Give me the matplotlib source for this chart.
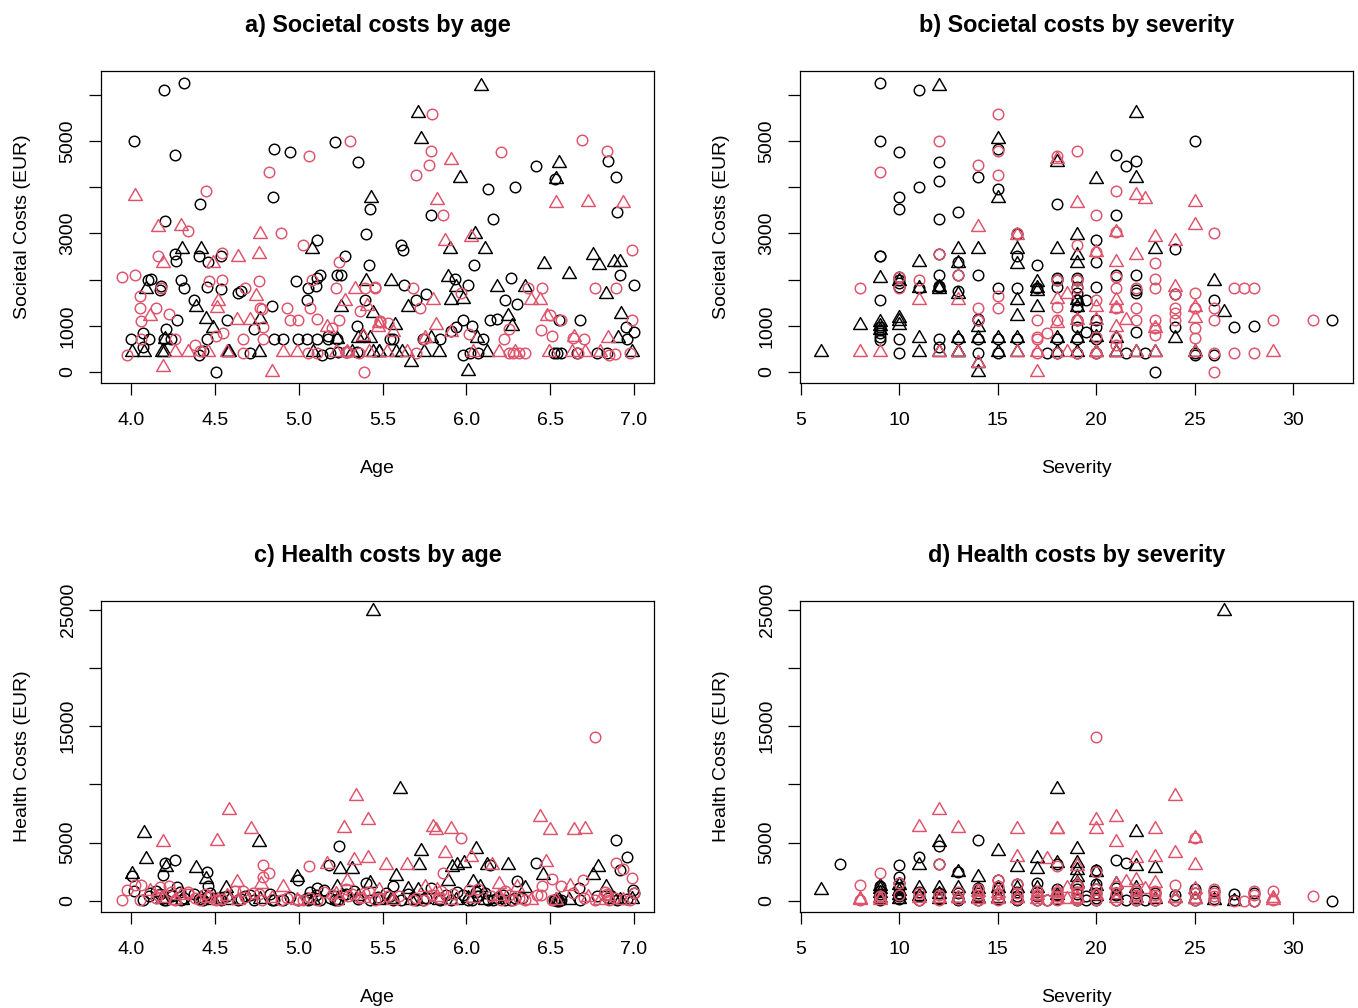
import matplotlib
matplotlib.use('Agg')
import matplotlib.pyplot as plt
from matplotlib.path import Path

PINK = '#DF536B'
plt.rcParams['font.family'] = ['Liberation Sans', 'DejaVu Sans']

# a) societal costs by age: bc=black circle, bt=black triangle, pc=pink circle, pt=pink triangle
a_bc_x = [4.195, 4.318, 4.014, 4.264, 4.853, 4.950, 5.217, 5.352, 4.845, 4.408, 4.201, 5.111, 5.402, 5.424, 4.260, 4.266, 4.402, 4.459, 4.537, 5.278, 5.419, 4.101, 4.119, 4.300, 4.314, 4.179, 4.175, 4.455, 4.539, 4.638, 4.654, 4.982, 5.127, 5.107, 5.227, 5.250, 5.058, 5.101, 4.374, 5.048, 5.398, 4.843, 4.276, 4.573, 4.736, 4.207, 5.346, 4.072, 4.002, 4.105, 4.193, 4.239, 4.451, 4.853, 4.909, 4.998, 5.048, 5.109, 5.177, 5.177, 5.231, 4.068, 4.402, 4.431, 4.710, 4.509, 5.137, 5.187, 5.237, 5.282, 5.346,
          6.413, 6.847, 6.896, 6.129, 6.288, 5.789, 6.159, 6.900, 5.608, 5.624, 6.045, 6.918, 7.000, 6.264, 5.934, 6.012, 5.626, 5.761, 5.698, 6.230, 6.300, 5.938, 5.906, 5.978, 6.032, 6.143, 6.185, 6.552, 6.678, 6.952, 7.002, 6.956, 5.841, 5.743, 6.101, 5.544, 5.564, 5.978, 6.022, 6.071, 6.525, 6.542, 6.564, 6.658, 6.777, 6.841, 6.531]
a_bc_y = [6097, 6255, 4993, 4704, 4820, 4762, 4978, 4545, 3795, 3636, 3268, 2850, 2994, 3521, 2561, 2403, 2504, 2374, 2511, 2504, 2316, 1991, 2013, 1991, 1811, 1861, 1775, 1833, 1804, 1717, 1753, 1977, 2100, 2027, 2092, 2100, 1811, 1861, 1551, 1551, 1551, 1429, 1126, 1126, 938, 938, 988, 837, 707, 707, 707, 707, 707, 707, 707, 707, 707, 707, 779, 707, 707, 534, 368, 455, 418, 0, 368, 411, 426, 426, 426,
          4452, 4567, 4228, 3961, 4012, 3398, 3319, 3456, 2749, 2641, 2316, 2100, 1883, 2027, 2013, 1883, 1883, 1681, 1558, 1551, 1479, 981, 887, 1118, 1003, 1126, 1140, 1118, 1118, 981, 873, 707, 707, 707, 707, 707, 707, 361, 418, 418, 418, 418, 418, 418, 418, 411, 4170]
a_bt_x = [4.004, 4.074, 4.183, 4.195, 4.575, 4.581, 4.763, 5.087, 4.089, 4.302, 4.419, 5.079, 4.384, 4.447, 4.489, 4.771, 5.250, 5.400, 5.441, 5.431, 4.199, 5.231, 5.356, 5.386, 5.425, 5.445, 5.481, 5.316,
          6.085, 5.709, 5.731, 6.554, 6.535, 5.962, 6.051, 5.902, 6.111, 6.757, 6.789, 6.463, 6.614, 6.882, 6.916, 6.831, 5.550, 5.888, 5.936, 5.908, 5.982, 5.654, 6.183, 6.350, 6.250, 6.270, 5.574, 6.922, 6.906, 5.787, 6.061, 5.479, 5.578, 5.614, 5.749, 5.839, 6.125, 6.986, 5.668, 6.012]
a_bt_y = [430, 430, 430, 430, 430, 430, 430, 430, 1797, 2662, 2655, 2662, 1414, 1140, 960, 1140, 1407, 1970, 1284, 3766, 714, 721, 729, 765, 729, 430, 430, 430,
          6198, 5599, 5043, 4531, 4170, 4192, 2980, 2655, 2662, 2532, 2316, 2330, 2121, 2388, 2388, 1688, 1962, 2056, 1833, 1558, 1573, 1414, 1833, 1833, 1219, 996, 1010, 1255, 736, 729, 729, 430, 430, 430, 430, 430, 430, 430, 224, 22]
a_pc_x = [5.308, 5.062, 4.823, 4.449, 4.342, 4.897, 5.026, 4.163, 4.543, 5.241, 3.946, 4.024, 4.465, 4.545, 4.761, 4.179, 4.054, 4.678, 5.081, 5.223, 5.396, 5.457, 4.054, 4.149, 4.225, 4.060, 4.769, 4.783, 4.932, 5.070, 4.948, 4.998, 5.111, 5.241, 5.366, 4.789, 5.201, 4.549, 4.509, 4.262, 4.060, 4.670, 4.789, 4.382, 3.976, 4.412, 4.670, 5.058, 5.107, 5.282, 5.296, 5.362, 5.388, 5.485,
          5.793, 6.688, 6.837, 5.787, 6.204, 5.777, 5.702, 5.863, 6.988, 5.455, 5.682, 6.369, 6.453, 6.765, 6.896, 5.968, 5.721, 6.499, 6.568, 5.483, 5.531, 6.990, 6.018, 6.256, 6.445, 6.511, 6.226, 6.638, 6.701, 5.749, 6.256, 6.280, 6.314, 6.348, 5.702, 6.668, 6.890, 6.853, 6.976]
a_pc_y = [4993, 4668, 4336, 3918, 3059, 3016, 2742, 2504, 2569, 2374, 2063, 2092, 1977, 1991, 1970, 1811, 1645, 1811, 1999, 1811, 1811, 1825, 1393, 1393, 1263, 1111, 1393, 1371, 1393, 1393, 1118, 1118, 1147, 1118, 1328, 981, 945, 837, 779, 707, 707, 707, 707, 577, 368, 455, 418, 418, 418, 426, 426, 418, 0, 1089,
          5584, 5029, 4776, 4776, 4769, 4488, 4264, 3398, 2633, 1833, 1811, 1811, 1811, 1811, 1811, 1710, 1393, 1227, 1118, 1111, 1068, 1118, 815, 924, 902, 779, 707, 729, 707, 707, 418, 418, 418, 418, 418, 418, 400, 361, 418]
a_pt_x = [4.024, 4.163, 4.296, 4.771, 4.765, 4.640, 4.187, 4.491, 4.517, 4.747, 4.511, 4.113, 4.632, 4.710, 5.276, 5.336, 5.406, 5.167, 5.386, 5.475, 4.262, 4.342, 4.461, 4.571, 4.909, 4.992, 5.222, 5.286, 5.421, 4.189, 4.841,
          5.910, 5.825, 6.535, 6.729, 6.936, 5.872, 6.026, 5.801, 6.385, 6.441, 5.819, 6.479, 5.564, 5.479, 5.908, 5.753, 6.642, 6.845, 5.525, 5.644, 6.037, 6.197, 6.290, 6.493, 6.628, 6.711, 6.797]
a_pt_y = [3810, 3131, 3167, 2980, 2554, 2496, 2352, 2366, 1544, 1652, 1393, 1205, 1118, 1118, 1544, 1804, 1429, 967, 779, 981, 430, 430, 430, 430, 430, 430, 430, 430, 430, 115, 10,
          4589, 3723, 3651, 3672, 3651, 2828, 2929, 1558, 1558, 1558, 1017, 1219, 873, 1053, 873, 729, 765, 729, 430, 430, 430, 430, 430, 430, 430, 430, 430]

# b) societal costs by severity
b_bc_x = [9, 9, 9, 9, 9, 9, 9, 9, 9, 9, 10, 10, 10, 10, 10, 10, 10, 10, 10, 11, 11, 11, 12, 12, 12, 12, 12, 12, 12, 12, 12, 13, 13, 13, 13, 13, 14, 14, 14, 14, 14, 14, 15, 15, 15, 15, 15, 16, 16, 16, 16, 17, 17, 17.5, 18, 18, 18, 18, 18, 18,
          19, 19, 19, 19, 19, 19, 19, 19, 19, 19, 20, 20, 20, 20, 20, 20, 20, 19.5, 19.5, 21, 21, 21, 21.5, 21.5, 22, 22, 22, 22, 22, 22.5, 23, 24, 24, 24, 25, 25, 25, 26, 26, 27, 28, 32]
b_bc_y = [6255, 4993, 2504, 2504, 1551, 981, 909, 837, 765, 693, 4769, 3795, 3521, 2063, 1991, 1919, 1833, 707, 418, 6097, 4012, 1825, 4545, 4127, 3319, 2561, 2100, 1861, 1833, 707, 534, 3456, 2374, 2100, 1760, 707, 4228, 2100, 1140, 1126, 707, 418, 4820, 3961, 1811, 707, 418, 2994, 2511, 1811, 707, 2316, 1811, 418, 3636, 2027, 1991, 1833, 707, 418,
          2027, 1991, 1833, 1704, 1551, 1400, 1118, 981, 707, 418, 2850, 2374, 1833, 1118, 980, 707, 418, 1551, 873, 4697, 3398, 2100, 4452, 418, 4567, 2100, 1775, 1700, 873, 418, 0, 2655, 1681, 981, 4993, 418, 368, 1558, 368, 981, 1003, 1126]
b_bt_x = [6, 8, 9, 9, 9, 9, 10, 10, 10, 10, 11, 11, 11, 11, 12, 12, 12, 12, 13, 13, 13, 13, 13, 13, 14, 14, 14, 14, 14, 15, 15, 15, 15, 16, 16, 16, 16, 16, 16, 17, 17, 17, 17, 18, 18, 18, 18, 19, 19, 19, 19, 19, 19, 19, 20, 20, 20, 21, 21, 21, 22, 22, 22, 23, 23, 24, 25, 26, 26.5]
b_bt_y = [430, 1010, 2042, 1075, 1000, 900, 1960, 1176, 1017, 1100, 2388, 1811, 729, 430, 6198, 1847, 1800, 430, 2662, 2366, 1688, 729, 430, 430, 2662, 981, 729, 188, 7, 5043, 3759, 729, 430, 2662, 2330, 1558, 1219, 729, 430, 1955, 1811, 1414, 1750, 4538, 2662, 729, 430, 2965, 2532, 2352, 1558, 1414, 729, 430, 4178, 765, 430, 430, 430, 729, 5606, 4192, 430, 2662, 430, 729, 430, 1970, 1291]
b_pc_x = [8, 9, 10, 10, 11, 12, 12, 13, 14, 14, 14, 15, 15, 15, 15, 15, 16, 17, 17, 17, 17, 17.5, 18, 18, 18, 18, 18, 19, 19, 19, 19, 19, 19, 20, 20, 20, 20, 20, 21, 21, 21, 21, 21, 21, 21, 22, 22, 22, 23, 23, 23, 23, 23, 23, 24, 24, 24, 24, 25, 25, 25, 25, 26, 26, 26, 26, 26, 27, 27.5, 27, 28, 28, 29, 31]
b_pc_y = [1811, 4336, 2063, 1811, 1991, 4993, 2561, 2100, 4488, 1393, 1118, 5584, 4776, 4264, 1645, 1393, 3001, 1118, 765, 707, 418, 851, 4668, 1991, 1400, 1118, 418, 4776, 2742, 1991, 1811, 1118, 418, 3398, 2605, 1558, 765, 418, 3925, 3038, 2063, 1811, 1378, 729, 584, 1811, 1393, 1118, 2366, 2006, 1811, 1118, 945, 801, 1681, 1393, 1270, 1118, 1710, 1393, 945, 729, 3016, 1393, 1118, 418, 0, 1811, 1811, 418, 1811, 418, 1118, 1118]
b_pt_x = [8, 9, 11, 12, 13, 13, 14, 14, 16, 16, 17, 17, 18, 18, 18, 18.5, 18.5, 19, 19, 20, 20, 20, 20, 21, 21, 21, 21, 21, 21, 21.5, 22, 22, 22, 22.5, 23, 23, 23, 24, 24, 25, 25, 25, 25, 25, 29]
b_pt_y = [430, 430, 1558, 430, 1558, 430, 3131, 200, 2965, 430, 8, 430, 4600, 1573, 1053, 1688, 430, 3651, 1118, 2605, 1414, 1126, 430, 3038, 2388, 1558, 1378, 981, 430, 1118, 3831, 2532, 430, 3737, 2929, 945, 430, 2828, 1847, 3687, 3182, 1414, 1162, 430, 430]

# c) health costs by age
c_bc_x = [4.199, 4.264, 4.189, 4.451, 4.457, 4.004, 4.014, 5.239, 5.179, 4.994, 5.400, 4.276, 5.107, 6.141, 6.415, 6.896, 6.958, 6.920, 6.300, 5.560, 5.789, 5.942, 6.672, 6.996,
          4.072, 4.105, 4.175, 4.193, 4.207, 4.239, 4.300, 4.314, 4.374, 4.402, 4.431, 4.455, 4.537, 4.573, 4.638, 4.654, 4.710, 4.736, 4.843, 4.853, 4.909, 4.950, 4.998, 5.048, 5.058, 5.101, 5.127, 5.187, 5.217, 5.237, 5.282, 5.352, 5.424, 5.544, 5.564, 5.608, 5.698, 5.743, 5.761, 5.841, 5.906, 5.978, 6.012, 6.032, 6.071, 6.129, 6.159, 6.185, 6.230, 6.264, 6.288, 6.525, 6.531, 6.542, 6.552, 6.564, 6.678, 6.777, 6.847, 6.900, 6.956, 7.002,
          4.113, 4.150, 4.245, 4.290, 4.470, 4.520, 4.680, 4.830, 5.070, 5.150, 5.265, 5.330, 5.470, 5.520, 5.650, 5.880, 6.060, 6.110, 6.220, 6.330]
c_bc_y = [3231, 3517, 2230, 2487, 1315, 2144, 858, 4689, 3088, 1801, 1572, 1172, 1086, 3088, 3288, 5203, 3745, 2659, 1687, 1315, 1086, 772, 1086, 943,
          60, 400, 620, 60, 120, 500, 60, 250, 600, 200, 90, 350, 100, 420, 60, 150, 520, 60, 110, 60, 90, 380, 60, 250, 120, 500, 60, 250, 90, 60, 640, 160, 60, 430, 120, 60, 90, 60, 250, 120, 60, 500, 90, 60, 430, 60, 120, 300, 60, 90, 250, 60, 60, 30, 30, 60, 120, 430, 300, 60, 150, 700,
          715, 900, 400, 800, 650, 300, 450, 600, 800, 950, 500, 900, 350, 700, 600, 500, 800, 650, 500, 250]
c_bt_x = [4.074, 4.087, 4.004, 4.207, 4.388, 4.449, 4.763, 4.988, 5.246, 5.316, 5.227, 4.565, 5.425, 5.443, 5.606, 5.731, 5.719, 5.578, 5.912, 5.942, 5.984, 6.055, 6.125, 6.250, 5.888, 6.459, 6.787, 6.757, 6.831, 6.041, 6.081, 6.350, 5.650, 5.713,
          4.183, 4.302, 4.419, 4.489, 4.581, 4.771, 5.087, 5.231, 5.356, 5.481, 5.550, 5.668, 5.749, 5.839, 5.936, 6.012, 6.111, 6.183, 6.535, 6.554, 6.614, 6.882, 6.916, 6.986]
c_bt_y = [5861, 3631, 2287, 2888, 2802, 1887, 5089, 2030, 2716, 2745, 1229, 1086, 1572, 24900, 9578, 4289, 3088, 2173, 2945, 3088, 3288, 4432, 3088, 3088, 1715, 2230, 2888, 2230, 1172, 1658, 1229, 1086, 1000, 943,
          150, 60, 300, 120, 60, 200, 60, 120, 400, 60, 130, 60, 200, 60, 90, 300, 60, 150, 60, 120, 60, 150, 60, 200]
c_pc_x = [5.060, 4.787, 4.825, 4.789, 3.944, 3.978, 4.022, 4.058, 4.223, 4.670, 5.968, 5.863, 6.896, 6.936, 6.988, 6.509, 6.699, 6.453, 6.568, 6.445, 6.230, 6.018, 6.767,
          4.054, 4.149, 4.163, 4.262, 4.342, 4.382, 4.412, 4.465, 4.509, 4.545, 4.678, 4.761, 4.783, 4.897, 4.932, 4.998, 5.026, 5.070, 5.111, 5.201, 5.241, 5.296, 5.366, 5.388, 5.457, 5.483, 5.531, 5.682, 5.702, 5.749, 5.793, 5.837, 6.204, 6.256, 6.280, 6.314, 6.348, 6.511, 6.638, 6.701, 6.765, 6.837, 6.853, 6.890, 6.976, 7.000,
          4.173, 4.240, 4.340, 4.440, 4.620, 4.730, 5.150, 5.280, 5.320, 5.420, 5.600, 5.850, 5.920, 6.070, 6.150, 6.420, 6.830]
c_pc_y = [3002, 3116, 2402, 2087, 57, 943, 1372, 1372, 1315, 858, 5403, 2430, 3288, 2716, 2001, 1858, 1773, 1315, 1315, 515, 858, 943, 14065,
          120, 300, 520, 60, 620, 300, 90, 430, 60, 200, 350, 560, 120, 60, 300, 60, 120, 250, 60, 520, 90, 400, 300, 650, 120, 300, 430, 60, 250, 120, 520, 300, 60, 500, 120, 300, 120, 60, 700, 250, 90, 570, 60, 300, 120, 650,
          1229, 800, 800, 600, 900, 700, 800, 1000, 600, 800, 400, 900, 600, 1000, 400, 500, 750]
c_pt_x = [4.187, 4.511, 4.581, 4.714, 5.340, 5.272, 5.413, 5.416, 5.330, 5.167, 4.630, 4.773, 4.905, 5.286, 5.521, 5.644, 5.799, 5.819, 5.908, 5.872, 6.028, 6.151, 6.439, 6.497, 6.642, 6.711, 6.477, 6.618, 6.194, 5.479, 5.753, 5.823, 6.300,
          4.113, 4.189, 4.262, 4.296, 4.461, 4.517, 4.571, 4.640, 4.841, 4.992, 5.222, 5.386, 5.564, 5.825, 5.910, 6.037, 6.197, 6.385, 6.535, 6.729, 6.797, 6.845, 6.936]
c_pt_y = [5032, 5175, 7805, 6175, 9006, 6290, 6919, 3688, 3517, 3174, 1658, 1430, 1172, 1744, 3088, 3088, 6347, 6118, 6175, 4146, 3745, 3088, 7205, 6118, 6118, 6175, 3374, 1315, 1458, 943, 1229, 943, 1229,
          900, 300, 120, 500, 300, 60, 430, 120, 300, 60, 600, 250, 120, 350, 60, 250, 430, 120, 60, 350, 120, 450, 60]

# d) health costs by severity
d_bc_x = [7, 9, 9, 9, 9, 9, 10, 10, 10, 10, 10, 10, 10, 11, 11, 11, 11, 12, 12, 12, 12, 13, 13, 13, 13, 14, 14, 14, 14, 14, 15, 15, 15, 15, 16, 16, 16, 16, 17, 17, 17, 17, 17.5, 18, 18, 18, 18, 19, 19, 19, 19, 19, 20, 20, 20, 20, 20, 20, 19.5, 19.5, 21, 21, 21, 21, 21.5, 21.5, 22, 22, 22, 22.5, 23, 23, 24, 24, 25, 25, 25, 26, 26, 27, 27, 28, 28, 32]
d_bc_y = [3202, 1300, 900, 600, 300, 100, 3088, 2087, 1515, 1100, 700, 400, 150, 3774, 800, 400, 100, 4717, 3145, 700, 200, 2516, 700, 300, 100, 5203, 1086, 700, 400, 100, 1801, 1086, 600, 200, 1500, 800, 400, 100, 1515, 800, 400, 100, 57, 3145, 1000, 500, 150, 1500, 1000, 600, 300, 100, 2700, 1500, 1000, 700, 300, 100, 429, 57, 3517, 1100, 500, 100, 3288, 57, 700, 300, 100, 57, 700, 100, 500, 100, 1000, 700, 100, 850, 200, 572, 60, 700, 40, 10]
d_bt_x = [6, 9, 9, 9, 9, 10, 10, 10, 10, 11, 11, 11, 12, 12, 12, 12, 13, 13, 13, 14, 14, 14, 15, 15, 15, 16, 16, 16, 17, 17, 17, 18, 18, 18, 19, 19, 19, 19, 19, 20, 20, 20, 21, 21, 22, 22, 22, 22, 23, 23, 24, 25, 26.5, 26, 27]
d_bt_y = [943, 1300, 1000, 700, 300, 1400, 900, 500, 150, 3088, 1086, 400, 5089, 1086, 600, 200, 2516, 1086, 300, 2087, 1000, 300, 4289, 1100, 300, 2945, 1100, 300, 3660, 2716, 1086, 9578, 3231, 500, 4432, 3231, 2659, 2087, 1515, 2500, 1300, 400, 1500, 500, 5889, 3000, 1100, 300, 2802, 200, 300, 200, 24900, 100, 40]
d_pc_x = [8, 8, 9, 9, 10, 10, 11, 11, 12, 12, 12, 13, 13, 14, 14, 14, 15, 15, 15, 15, 16, 16, 16, 17, 17, 17, 17.5, 18, 18, 18, 18, 19, 19, 19, 19, 20, 20, 20, 20, 20, 21, 21, 21, 22, 22, 22, 23, 23, 23, 24, 24, 25, 25, 25, 26, 26, 26, 26, 27, 27.5, 28, 28, 28, 29, 29, 31]
d_pc_y = [1344, 100, 2430, 400, 1515, 500, 700, 100, 3145, 500, 100, 800, 200, 1000, 500, 100, 1801, 1287, 600, 100, 1500, 700, 200, 900, 500, 100, 57, 3002, 800, 400, 100, 1400, 800, 300, 100, 14065, 2516, 1000, 600, 100, 1300, 700, 100, 900, 500, 100, 900, 500, 100, 1344, 100, 5375, 700, 100, 1000, 700, 400, 60, 0, 0, 900, 500, 40, 886, 100, 429]
d_pt_x = [8, 8, 9, 9, 11, 11, 12, 12, 13, 13, 14, 14, 15, 15, 16, 16, 16, 17, 17, 17.5, 18, 18, 18, 18, 18.5, 18.5, 19, 19, 19, 20, 20, 20, 21, 21, 21, 21, 21.5, 22, 22, 22, 22.5, 23, 23, 23, 23, 24, 24, 24, 25, 25, 25, 25, 29, 29]
d_pt_y = [143, 100, 300, 100, 6347, 300, 7805, 300, 6290, 300, 800, 200, 700, 200, 6175, 3803, 300, 500, 150, 3574, 6175, 6175, 800, 200, 1086, 143, 3000, 1500, 300, 6947, 6175, 500, 7233, 5089, 1500, 300, 1658, 3660, 1801, 300, 1000, 6147, 3803, 1515, 300, 9035, 4146, 300, 5375, 3088, 1000, 200, 300, 100]

panels = [
    ('a) Societal costs by age', 'Age', 'Societal Costs (EUR)', a_bc_x, a_bc_y, a_bt_x, a_bt_y, a_pc_x, a_pc_y, a_pt_x, a_pt_y),
    ('b) Societal costs by severity', 'Severity', 'Societal Costs (EUR)', b_bc_x, b_bc_y, b_bt_x, b_bt_y, b_pc_x, b_pc_y, b_pt_x, b_pt_y),
    ('c) Health costs by age', 'Age', 'Health Costs (EUR)', c_bc_x, c_bc_y, c_bt_x, c_bt_y, c_pc_x, c_pc_y, c_pt_x, c_pt_y),
    ('d) Health costs by severity', 'Severity', 'Health Costs (EUR)', d_bc_x, d_bc_y, d_bt_x, d_bt_y, d_pc_x, d_pc_y, d_pt_x, d_pt_y),
]

age_ticks = [4.0, 4.5, 5.0, 5.5, 6.0, 6.5, 7.0]
age_labels = ['4.0', '4.5', '5.0', '5.5', '6.0', '6.5', '7.0']
sev_ticks = [5, 10, 15, 20, 25, 30]
soc_ticks = [0, 1000, 2000, 3000, 4000, 5000, 6000]
soc_labels = ['0', '1000', '', '3000', '', '5000', '']
health_ticks = [0, 5000, 10000, 15000, 20000, 25000]
health_labels = ['0', '5000', '', '15000', '', '25000']

# R style triangle, centred a third of the way up
tri = Path([(0, 1.555), (-1.347, -0.778), (1.347, -0.778), (0, 1.555)], closed=True)

W, H = 1358, 1008
fig = plt.figure(figsize=(W / 100, H / 100), dpi=100)
boxes = [(101, 71, 654, 383), (800, 71, 1353, 383), (101, 601, 654, 912), (800, 601, 1353, 912)]

for i, p in enumerate(panels):
    title, xlab, ylab, bcx, bcy, btx, bty, pcx, pcy, ptx, pty = p
    l, t, r, b = boxes[i]
    ax = fig.add_axes([l / W, 1 - b / H, (r - l) / W, (b - t) / H])
    ax.plot(btx, bty, marker=tri, mfc='none', mec='black', mew=1.05, ms=11.4, ls='none')
    ax.plot(bcx, bcy, 'o', mfc='none', mec='black', mew=1.05, ms=7.6, ls='none')
    ax.plot(pcx, pcy, 'o', mfc='none', mec=PINK, mew=1.05, ms=7.6, ls='none')
    ax.plot(ptx, pty, marker=tri, mfc='none', mec=PINK, mew=1.05, ms=11.4, ls='none')

    if xlab == 'Age':
        ax.set_xlim(3.82, 7.12)
        ax.set_xticks(age_ticks)
        ax.set_xticklabels(age_labels)
    else:
        ax.set_xlim(4.95, 33.05)
        ax.set_xticks(sev_ticks)
    if i < 2:
        ax.set_ylim(-238, 6515)
        ax.set_yticks(soc_ticks)
        ax.set_yticklabels(soc_labels)
    else:
        ax.set_ylim(-943, 25730)
        ax.set_yticks(health_ticks)
        ax.set_yticklabels(health_labels)

    ax.tick_params(axis='both', length=8.6, width=0.9, labelsize=14, pad=12)
    ax.tick_params(axis='y', pad=9)
    for lab in ax.get_yticklabels():
        lab.set_rotation(90)
        lab.set_va('center')
    for s in ax.spines.values():
        s.set_linewidth(0.9)
    ax.set_title(title, fontsize=16.9, fontweight='bold', pad=28)
    ax.set_xlabel(xlab, fontsize=14, labelpad=22.5)
    ax.set_ylabel(ylab, fontsize=14, labelpad=20.5)

fig.savefig('out.png', dpi=100)
